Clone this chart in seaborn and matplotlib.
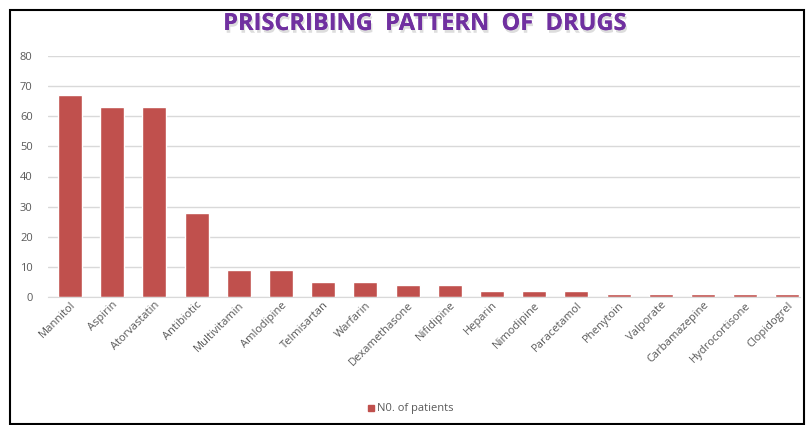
import matplotlib
matplotlib.use("Agg")
import matplotlib.pyplot as plt
import matplotlib.patheffects as pe
from matplotlib.patches import Rectangle
import seaborn as sns
import pandas as pd

drugs = ["Mannitol", "Aspirin", "Atorvastatin", "Antibiotic", "Multivitamin",
         "Amlodipine", "Telmisartan", "Warfarin", "Dexamethasone", "Nifidipine",
         "Heparin", "Nimodipine", "Paracetamol", "Phenytoin", "Valporate",
         "Carbamazepine", "Hydrocortisone", "Clopidogrel"]
patients = [67, 63, 63, 28, 9, 9, 5, 5, 4, 4, 2, 2, 2, 1, 1, 1, 1, 1]
y_ticks = [0, 10, 20, 30, 40, 50, 60, 70, 80]
series_name = "N0. of patients"
title = "PRISCRIBING  PATTERN  OF  DRUGS"

df = pd.DataFrame({"drug": drugs, "patients": patients})

sns.set_style("white")
plt.rcParams["font.family"] = ["Open Sans", "DejaVu Sans"]

W, H = 806, 425
fig = plt.figure(figsize=(W / 100, H / 100), dpi=100)
ax = fig.add_axes([48 / W, 128 / H, (800 - 48) / W, (369 - 128) / H])

sns.barplot(data=df, x="drug", y="patients", color="#C0504D", saturation=1,
            width=0.57, ax=ax, label=series_name, legend=False)

ax.set_ylim(0, 80)
ax.set_xlim(-0.52, 17.30)
ax.set_yticks(y_ticks)
ax.yaxis.grid(True, color="#D9D9D9", linewidth=1)
ax.set_axisbelow(True)
for s in ["top", "right", "left"]:
    ax.spines[s].set_visible(False)
ax.spines["bottom"].set_color("#D9D9D9")
ax.set_xlabel("")
ax.set_ylabel("")
ax.tick_params(axis="y", length=0, labelsize=8, labelcolor="#595959", pad=11)
ax.tick_params(axis="x", length=0, labelsize=8, labelcolor="#595959", pad=2)
plt.setp(ax.get_xticklabels(), rotation=45, ha="right", rotation_mode="anchor")

fig.text(425 / W, 1 - 24 / H, title, ha="center", va="center",
         fontsize=17, fontweight="bold", color="#7030A0",
         path_effects=[pe.withSimplePatchShadow(offset=(1, -2), shadow_rgbFace="#aaaaaa", alpha=0.4),
                       pe.Normal()])

# legend
fig.patches.append(Rectangle((368 / W, 1 - 411 / H), 6 / W, 6 / H,
                             transform=fig.transFigure, color="#C0504D"))
fig.text(377 / W, 1 - 408 / H, series_name, ha="left", va="center",
         fontsize=8, color="#595959")

# outer frame
fig.patches.append(Rectangle((10 / W, 1 / H), (804 - 10) / W, (415 - 1) / H,
                             transform=fig.transFigure, fill=False,
                             edgecolor="black", linewidth=1.5))

fig.savefig("out.png", dpi=100)
